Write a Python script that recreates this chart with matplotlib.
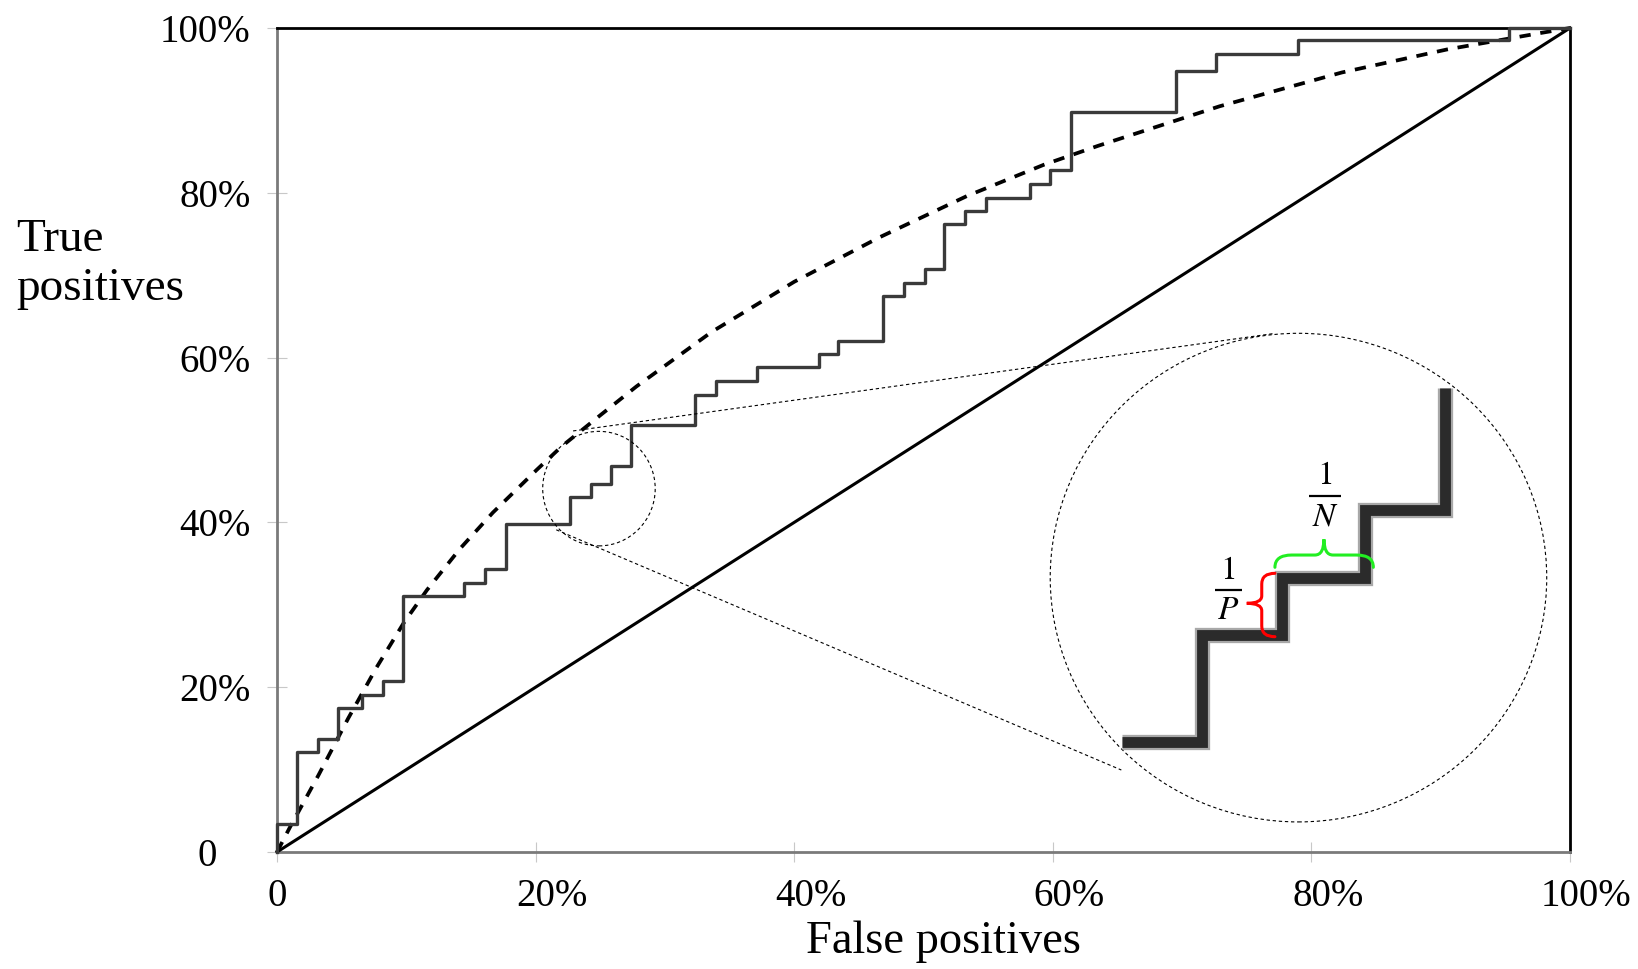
import numpy as np
import matplotlib
matplotlib.use("Agg")
import matplotlib.pyplot as plt
from matplotlib.patches import Ellipse, PathPatch
from matplotlib.path import Path
import matplotlib.transforms as mtransforms

plt.rcParams['font.family'] = ['Liberation Serif', 'DejaVu Serif']
plt.rcParams['mathtext.fontset'] = 'stix'

# ---------------- data ----------------
tick_values = [0, 20, 40, 60, 80, 100]
tick_labels = ["0", "20%", "40%", "60%", "80%", "100%"]

# empirical ROC staircase: x position of each rise and level after rise (%)
step_fpr = [0, 0, 1.58, 3.2, 4.75, 6.55, 8.17, 9.77, 14.46, 16.09, 17.69, 22.66,
            24.26, 25.83, 27.38, 32.36, 33.93, 37.1, 41.9, 43.4, 46.86, 48.46,
            50.1, 51.6, 53.2, 54.8, 58.2, 59.8, 61.4, 69.5, 72.6, 79.0, 95.3, 100]
step_tpr = [0, 3.35, 12.16, 13.7, 17.5, 19.1, 20.7, 31.1, 32.7, 34.35, 39.8, 43.1,
            44.7, 46.8, 51.8, 55.46, 57.2, 58.8, 60.4, 62.05, 67.5, 69.1,
            70.8, 76.2, 77.8, 79.4, 81.1, 82.75, 89.75, 94.8, 96.9, 98.5, 100, 100]

# smooth (fitted) ROC curve, dashed
smooth_fpr = [0, 1.0, 3.2, 5.5, 7.7, 9.8, 11.6, 14.15, 16.7, 20.1, 22.0, 25.0, 27.8,
              33.6, 40.0, 46.6, 53.35, 59.3, 63.5, 72.9, 82.35, 90.5, 97.75, 100]
smooth_tpr = [0, 3.0, 9.3, 16.2, 22.4, 27.8, 31.8, 36.8, 41.2, 46.4, 49.2, 53.0, 56.5,
              63.1, 69.2, 74.6, 79.6, 83.4, 85.7, 90.5, 94.6, 97.4, 99.4, 100]

# chance diagonal
diag_fpr = [0, 100]
diag_tpr = [0, 100]

# magnified staircase in the inset
zoom_fpr = [65.33, 71.52, 71.52, 77.70, 77.70, 84.15, 84.15, 90.33, 90.33]
zoom_tpr = [13.39, 13.39, 26.33, 26.33, 33.21, 33.21, 41.50, 41.50, 56.27]

# ---------------- figure ----------------
fig = plt.figure(figsize=(16.38, 9.69), dpi=100)
ax = fig.add_axes([277/1638, 1-852/969, (1570-277)/1638, (852-28)/969])
ax.set_xlim(0, 100)
ax.set_ylim(0, 100)

ax.plot(diag_fpr, diag_tpr, color='black', lw=2.2, clip_on=False, zorder=3)
ax.plot(smooth_fpr, smooth_tpr, color='black', lw=2.7, dashes=(3.0, 2.6),
        clip_on=False, zorder=4)
ax.step(step_fpr, step_tpr, where='post', color='#3a3a3a', lw=2.4,
        clip_on=False, zorder=5)

# inset magnifier
dot = (0, (3, 2.5))
ax.add_patch(Ellipse((24.9, 44.1), 8.7, 13.9, fill=False, ec='black', lw=0.8,
                     ls=dot, clip_on=False, zorder=6))
ax.add_patch(Ellipse((79.0, 33.3), 38.4, 59.3, fill=False, ec='black', lw=0.8,
                     ls=dot, clip_on=False, zorder=6))
ax.plot([22.9, 77.0], [51.1, 62.9], color='black', lw=0.8, ls=dot, zorder=6)
ax.plot([21.6, 65.3], [39.1, 9.95], color='black', lw=0.8, ls=dot, zorder=6)

ax.plot(zoom_fpr, zoom_tpr, color='#a8a8a8', lw=11.0, solid_capstyle='butt',
        solid_joinstyle='miter', zorder=7)
ax.plot(zoom_fpr, zoom_tpr, color='#2b2b2b', lw=7.8, solid_capstyle='butt',
        solid_joinstyle='miter', zorder=8)


def vbrace(x_end, x_spine, x_tip, y_bot, y_top, y_tip, r_end, r_mid, color):
    verts = [(x_end, y_top), (x_spine, y_top), (x_spine, y_top - r_end),
             (x_spine, y_tip + r_mid), (x_spine, y_tip), (x_tip, y_tip),
             (x_spine, y_tip), (x_spine, y_tip - r_mid),
             (x_spine, y_bot + r_end), (x_spine, y_bot), (x_end, y_bot)]
    codes = [Path.MOVETO, Path.CURVE3, Path.CURVE3, Path.LINETO, Path.CURVE3,
             Path.CURVE3, Path.CURVE3, Path.CURVE3, Path.LINETO, Path.CURVE3,
             Path.CURVE3]
    ax.add_patch(PathPatch(Path(verts, codes), fill=False, ec=color, lw=2.2,
                           capstyle='round', zorder=9))


def hbrace(y_end, y_spine, y_tip, x_left, x_right, x_tip, r_end, r_mid, color):
    verts = [(x_left, y_end), (x_left, y_spine), (x_left + r_end, y_spine),
             (x_tip - r_mid, y_spine), (x_tip, y_spine), (x_tip, y_tip),
             (x_tip, y_spine), (x_tip + r_mid, y_spine),
             (x_right - r_end, y_spine), (x_right, y_spine), (x_right, y_end)]
    codes = [Path.MOVETO, Path.CURVE3, Path.CURVE3, Path.LINETO, Path.CURVE3,
             Path.CURVE3, Path.CURVE3, Path.CURVE3, Path.LINETO, Path.CURVE3,
             Path.CURVE3]
    ax.add_patch(PathPatch(Path(verts, codes), fill=False, ec=color, lw=2.2,
                           capstyle='round', zorder=9))


vbrace(77.18, 76.16, 75.0, 26.13, 33.82, 30.18, 1.3, 0.9, '#ff0000')
hbrace(34.55, 36.04, 37.95, 77.18, 84.79, 80.97, 1.3, 0.7, '#22ee22')


def fraction(xc, y_num, y_bar, y_den, x0, x1, den):
    ax.text(xc, y_num, r'$1$', fontsize=24, ha='center', va='center', zorder=10)
    ax.plot([x0, x1], [y_bar, y_bar], color='black', lw=1.6,
            solid_capstyle='butt', zorder=10)
    ax.text(xc, y_den, r'$%s$' % den, fontsize=24, ha='center', va='center',
            zorder=10)


fraction(73.55, 34.1, 31.8, 29.26, 72.54, 74.6, 'P')
fraction(81.05, 45.64, 43.24, 40.6, 79.81, 82.27, 'N')

# ---------------- axes styling ----------------
for side in ['left', 'bottom']:
    ax.spines[side].set_color('#7a7a7a')
    ax.spines[side].set_linewidth(2.0)
for side in ['top', 'right']:
    ax.spines[side].set_color('black')
    ax.spines[side].set_linewidth(2.0)

ax.set_xticks(tick_values)
ax.set_xticklabels(tick_labels)
ax.set_yticks(tick_values)
ax.set_yticklabels(tick_labels)
ax.tick_params(direction='inout', length=13.7, width=0.8, color='#c8c8c8',
               labelsize=28, pad=12, top=False, right=False)

for lab, txt in zip(ax.get_xticklabels(), tick_labels):
    if txt.endswith('%'):
        off = mtransforms.ScaledTranslation(16.4/100, 0, fig.dpi_scale_trans)
        lab.set_transform(lab.get_transform() + off)
for lab, txt in zip(ax.get_yticklabels(), tick_labels):
    if not txt.endswith('%'):
        off = mtransforms.ScaledTranslation(-34/100, 0, fig.dpi_scale_trans)
        lab.set_transform(lab.get_transform() + off)

fig.text(16/1638, 1-250.7/969, 'True', fontsize=34, ha='left', va='baseline')
fig.text(16/1638, 1-300/969, 'positives', fontsize=34, ha='left', va='baseline')
fig.text(943.4/1638, 1-953.3/969, 'False positives', fontsize=33.5,
         ha='center', va='baseline')

fig.savefig('out.png', dpi=100, facecolor='white')
